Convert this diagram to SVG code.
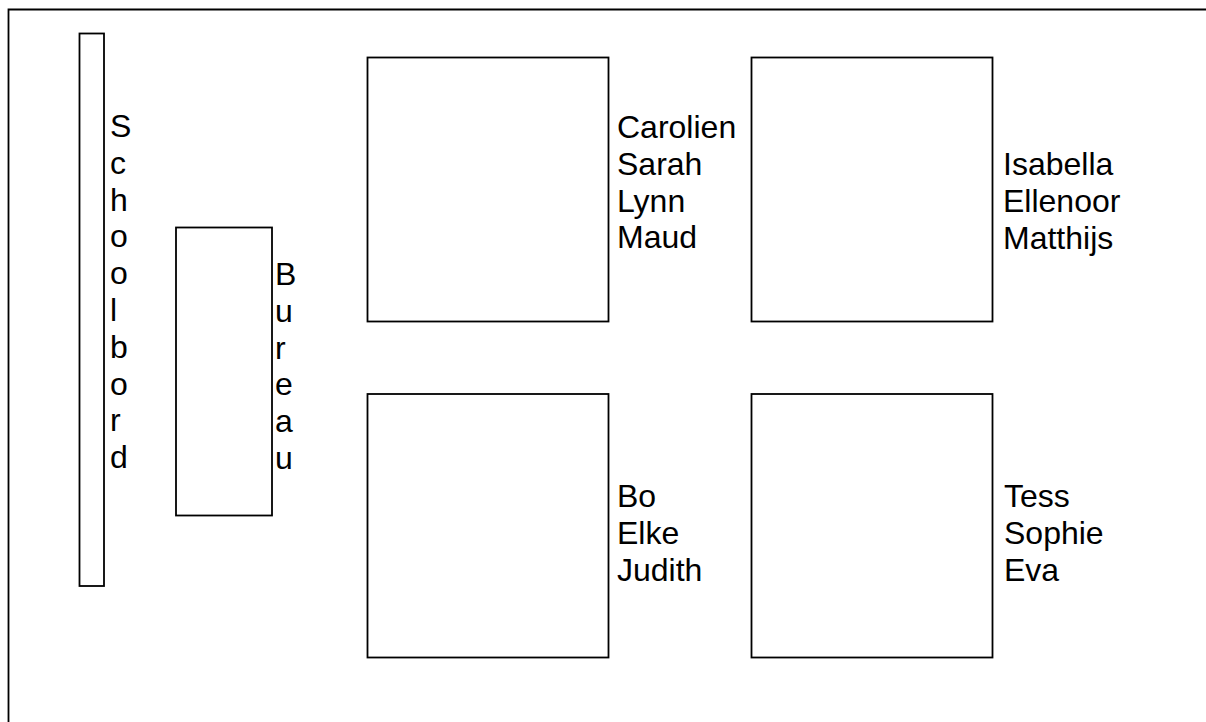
<svg xmlns="http://www.w3.org/2000/svg" width="1206" height="722" viewBox="0 0 1206 722">
<style>
.box{fill:#fff;stroke:#000;stroke-width:1.8}
.t{font-family:"Liberation Sans",Arial,sans-serif;font-size:32px;fill:#000}
</style>
<rect width="1206" height="722" fill="#fff"/>
<g id="frame">
<path d="M8.5 740 V9.5 H1220" fill="none" stroke="#000" stroke-width="1.8"/>
</g>
<g id="schoolbord">
<rect class="box" x="79.5" y="33.5" width="24.5" height="552.5"/>
<text class="t">
<tspan x="110" y="137">S</tspan><tspan x="110" y="173.8">c</tspan><tspan x="110" y="210.6">h</tspan><tspan x="110" y="247.4">o</tspan><tspan x="110" y="284.2">o</tspan><tspan x="110" y="321">l</tspan><tspan x="110" y="357.8">b</tspan><tspan x="110" y="394.6">o</tspan><tspan x="110" y="431.4">r</tspan><tspan x="110" y="468.2">d</tspan>
</text>
</g>
<g id="bureau">
<rect class="box" x="176" y="227.5" width="96" height="288"/>
<text class="t">
<tspan x="275" y="285">B</tspan><tspan x="275" y="321.8">u</tspan><tspan x="275" y="358.6">r</tspan><tspan x="275" y="395.4">e</tspan><tspan x="275" y="432.2">a</tspan><tspan x="275" y="469">u</tspan>
</text>
</g>
<g id="table1">
<rect class="box" x="367.5" y="57.5" width="241" height="264"/>
<text class="t"><tspan x="617" y="138">Carolien</tspan><tspan x="617" y="174.8">Sarah</tspan><tspan x="617" y="211.6">Lynn</tspan><tspan x="617" y="248.4">Maud</tspan></text>
</g>
<g id="table2">
<rect class="box" x="751.5" y="57.5" width="241" height="264"/>
<text class="t"><tspan x="1003" y="175">Isabella</tspan><tspan x="1003" y="211.8">Ellenoor</tspan><tspan x="1003" y="248.6">Matthijs</tspan></text>
</g>
<g id="table3">
<rect class="box" x="367.5" y="394" width="241" height="263.5"/>
<text class="t"><tspan x="617" y="507">Bo</tspan><tspan x="617" y="543.8">Elke</tspan><tspan x="617" y="580.6">Judith</tspan></text>
</g>
<g id="table4">
<rect class="box" x="751.5" y="394" width="241" height="263.5"/>
<text class="t"><tspan x="1004" y="507">Tess</tspan><tspan x="1004" y="543.8">Sophie</tspan><tspan x="1004" y="580.6">Eva</tspan></text>
</g>
<g id="connectors"/>
</svg>
